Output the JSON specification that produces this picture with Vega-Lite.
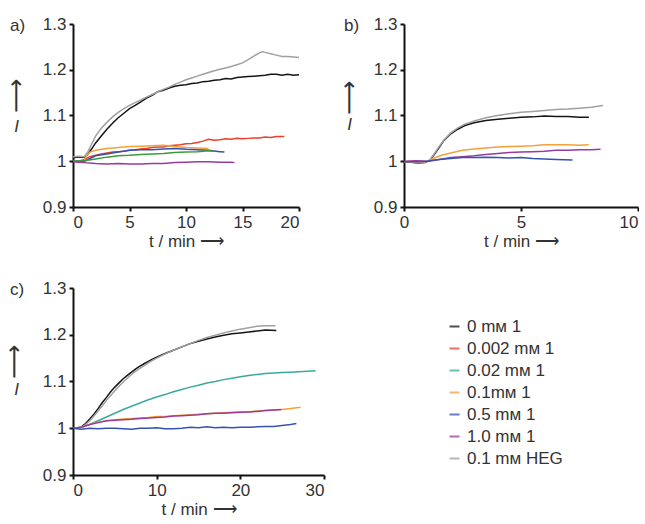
{
 "$schema": "https://vega.github.io/schema/vega-lite/v6.json",
 "padding": {"left": 2, "top": 15, "right": 0, "bottom": 0},
 "config": {
  "font": "Liberation Sans",
  "view": {"stroke": null},
  "axis": {"grid": false, "domainColor": "#111", "domainWidth": 2, "tickColor": "#111", "tickWidth": 2, "tickSize": 4, "labelFontSize": 17, "labelColor": "#333", "titleFontSize": 17, "titleFontWeight": "normal", "titleColor": "#333", "labelPadding": 3},
  "title": {"fontSize": 17, "fontWeight": "normal", "color": "#333", "anchor": "start", "frame": "group"}
 },
 "datasets": {
  "d": [
   {"p":"a","s":"0 mм 1","t":0,"I":1.008},{"p":"a","s":"0 mм 1","t":0.5,"I":1.009},{"p":"a","s":"0 mм 1","t":1,"I":1.009},{"p":"a","s":"0 mм 1","t":1.3,"I":1.015},{"p":"a","s":"0 mм 1","t":1.6,"I":1.025},{"p":"a","s":"0 mм 1","t":2,"I":1.04},{"p":"a","s":"0 mм 1","t":2.5,"I":1.055},{"p":"a","s":"0 mм 1","t":3,"I":1.07},{"p":"a","s":"0 mм 1","t":3.5,"I":1.083},{"p":"a","s":"0 mм 1","t":4,"I":1.095},{"p":"a","s":"0 mм 1","t":4.5,"I":1.105},{"p":"a","s":"0 mм 1","t":5,"I":1.115},{"p":"a","s":"0 mм 1","t":5.5,"I":1.122},{"p":"a","s":"0 mм 1","t":6,"I":1.13},{"p":"a","s":"0 mм 1","t":6.5,"I":1.138},{"p":"a","s":"0 mм 1","t":7,"I":1.144},{"p":"a","s":"0 mм 1","t":7.5,"I":1.152},{"p":"a","s":"0 mм 1","t":8,"I":1.155},{"p":"a","s":"0 mм 1","t":8.5,"I":1.16},{"p":"a","s":"0 mм 1","t":9,"I":1.164},{"p":"a","s":"0 mм 1","t":9.5,"I":1.166},{"p":"a","s":"0 mм 1","t":10,"I":1.167},{"p":"a","s":"0 mм 1","t":10.5,"I":1.17},{"p":"a","s":"0 mм 1","t":11,"I":1.171},{"p":"a","s":"0 mм 1","t":11.5,"I":1.174},{"p":"a","s":"0 mм 1","t":12,"I":1.175},{"p":"a","s":"0 mм 1","t":12.5,"I":1.177},{"p":"a","s":"0 mм 1","t":13,"I":1.178},{"p":"a","s":"0 mм 1","t":13.5,"I":1.181},{"p":"a","s":"0 mм 1","t":14,"I":1.18},{"p":"a","s":"0 mм 1","t":14.5,"I":1.183},{"p":"a","s":"0 mм 1","t":15,"I":1.184},{"p":"a","s":"0 mм 1","t":15.5,"I":1.185},{"p":"a","s":"0 mм 1","t":16,"I":1.186},{"p":"a","s":"0 mм 1","t":16.5,"I":1.187},{"p":"a","s":"0 mм 1","t":17,"I":1.188},{"p":"a","s":"0 mм 1","t":17.5,"I":1.19},{"p":"a","s":"0 mм 1","t":18,"I":1.19},{"p":"a","s":"0 mм 1","t":18.5,"I":1.188},{"p":"a","s":"0 mм 1","t":19,"I":1.19},{"p":"a","s":"0 mм 1","t":19.5,"I":1.188},{"p":"a","s":"0 mм 1","t":20,"I":1.189},
   {"p":"a","s":"0.1 mм HEG","t":0,"I":1.01},{"p":"a","s":"0.1 mм HEG","t":0.5,"I":1.011},{"p":"a","s":"0.1 mм HEG","t":1,"I":1.01},{"p":"a","s":"0.1 mм HEG","t":1.3,"I":1.02},{"p":"a","s":"0.1 mм HEG","t":1.6,"I":1.035},{"p":"a","s":"0.1 mм HEG","t":2,"I":1.055},{"p":"a","s":"0.1 mм HEG","t":2.5,"I":1.072},{"p":"a","s":"0.1 mм HEG","t":3,"I":1.085},{"p":"a","s":"0.1 mм HEG","t":3.5,"I":1.097},{"p":"a","s":"0.1 mм HEG","t":4,"I":1.107},{"p":"a","s":"0.1 mм HEG","t":4.5,"I":1.115},{"p":"a","s":"0.1 mм HEG","t":5,"I":1.122},{"p":"a","s":"0.1 mм HEG","t":5.5,"I":1.128},{"p":"a","s":"0.1 mм HEG","t":6,"I":1.134},{"p":"a","s":"0.1 mм HEG","t":6.5,"I":1.14},{"p":"a","s":"0.1 mм HEG","t":7,"I":1.146},{"p":"a","s":"0.1 mм HEG","t":7.5,"I":1.152},{"p":"a","s":"0.1 mм HEG","t":8,"I":1.157},{"p":"a","s":"0.1 mм HEG","t":8.5,"I":1.162},{"p":"a","s":"0.1 mм HEG","t":9,"I":1.168},{"p":"a","s":"0.1 mм HEG","t":9.5,"I":1.173},{"p":"a","s":"0.1 mм HEG","t":10,"I":1.178},{"p":"a","s":"0.1 mм HEG","t":10.5,"I":1.182},{"p":"a","s":"0.1 mм HEG","t":11,"I":1.186},{"p":"a","s":"0.1 mм HEG","t":11.5,"I":1.19},{"p":"a","s":"0.1 mм HEG","t":12,"I":1.194},{"p":"a","s":"0.1 mм HEG","t":12.5,"I":1.198},{"p":"a","s":"0.1 mм HEG","t":13,"I":1.201},{"p":"a","s":"0.1 mм HEG","t":13.5,"I":1.204},{"p":"a","s":"0.1 mм HEG","t":14,"I":1.207},{"p":"a","s":"0.1 mм HEG","t":14.5,"I":1.211},{"p":"a","s":"0.1 mм HEG","t":15,"I":1.215},{"p":"a","s":"0.1 mм HEG","t":15.5,"I":1.222},{"p":"a","s":"0.1 mм HEG","t":16,"I":1.23},{"p":"a","s":"0.1 mм HEG","t":16.5,"I":1.237},{"p":"a","s":"0.1 mм HEG","t":16.8,"I":1.24},{"p":"a","s":"0.1 mм HEG","t":17,"I":1.238},{"p":"a","s":"0.1 mм HEG","t":17.5,"I":1.235},{"p":"a","s":"0.1 mм HEG","t":18,"I":1.232},{"p":"a","s":"0.1 mм HEG","t":18.5,"I":1.229},{"p":"a","s":"0.1 mм HEG","t":19,"I":1.229},{"p":"a","s":"0.1 mм HEG","t":19.5,"I":1.228},{"p":"a","s":"0.1 mм HEG","t":20,"I":1.227},
   {"p":"a","s":"0.002 mм 1","t":0,"I":1.0},{"p":"a","s":"0.002 mм 1","t":0.5,"I":1.0},{"p":"a","s":"0.002 mм 1","t":1,"I":1.004},{"p":"a","s":"0.002 mм 1","t":1.5,"I":1.01},{"p":"a","s":"0.002 mм 1","t":2,"I":1.013},{"p":"a","s":"0.002 mм 1","t":2.5,"I":1.016},{"p":"a","s":"0.002 mм 1","t":3,"I":1.018},{"p":"a","s":"0.002 mм 1","t":3.5,"I":1.02},{"p":"a","s":"0.002 mм 1","t":4,"I":1.021},{"p":"a","s":"0.002 mм 1","t":4.5,"I":1.022},{"p":"a","s":"0.002 mм 1","t":5,"I":1.024},{"p":"a","s":"0.002 mм 1","t":5.5,"I":1.025},{"p":"a","s":"0.002 mм 1","t":6,"I":1.027},{"p":"a","s":"0.002 mм 1","t":6.5,"I":1.028},{"p":"a","s":"0.002 mм 1","t":7,"I":1.03},{"p":"a","s":"0.002 mм 1","t":7.5,"I":1.031},{"p":"a","s":"0.002 mм 1","t":8,"I":1.031},{"p":"a","s":"0.002 mм 1","t":8.5,"I":1.034},{"p":"a","s":"0.002 mм 1","t":9,"I":1.035},{"p":"a","s":"0.002 mм 1","t":9.5,"I":1.036},{"p":"a","s":"0.002 mм 1","t":10,"I":1.038},{"p":"a","s":"0.002 mм 1","t":10.5,"I":1.039},{"p":"a","s":"0.002 mм 1","t":11,"I":1.041},{"p":"a","s":"0.002 mм 1","t":11.5,"I":1.044},{"p":"a","s":"0.002 mм 1","t":12,"I":1.048},{"p":"a","s":"0.002 mм 1","t":12.5,"I":1.046},{"p":"a","s":"0.002 mм 1","t":13,"I":1.047},{"p":"a","s":"0.002 mм 1","t":13.5,"I":1.049},{"p":"a","s":"0.002 mм 1","t":14,"I":1.048},{"p":"a","s":"0.002 mм 1","t":14.5,"I":1.05},{"p":"a","s":"0.002 mм 1","t":15,"I":1.049},{"p":"a","s":"0.002 mм 1","t":15.5,"I":1.05},{"p":"a","s":"0.002 mм 1","t":16,"I":1.051},{"p":"a","s":"0.002 mм 1","t":16.5,"I":1.051},{"p":"a","s":"0.002 mм 1","t":17,"I":1.053},{"p":"a","s":"0.002 mм 1","t":17.5,"I":1.052},{"p":"a","s":"0.002 mм 1","t":18,"I":1.054},{"p":"a","s":"0.002 mм 1","t":18.7,"I":1.054},
   {"p":"a","s":"0.1mм 1","t":0,"I":1.0},{"p":"a","s":"0.1mм 1","t":0.5,"I":1.0},{"p":"a","s":"0.1mм 1","t":1,"I":1.002},{"p":"a","s":"0.1mм 1","t":1.2,"I":1.012},{"p":"a","s":"0.1mм 1","t":1.5,"I":1.02},{"p":"a","s":"0.1mм 1","t":2,"I":1.024},{"p":"a","s":"0.1mм 1","t":2.5,"I":1.026},{"p":"a","s":"0.1mм 1","t":3,"I":1.028},{"p":"a","s":"0.1mм 1","t":4,"I":1.03},{"p":"a","s":"0.1mм 1","t":5,"I":1.032},{"p":"a","s":"0.1mм 1","t":6,"I":1.033},{"p":"a","s":"0.1mм 1","t":7,"I":1.034},{"p":"a","s":"0.1mм 1","t":8,"I":1.035},{"p":"a","s":"0.1mм 1","t":9,"I":1.032},{"p":"a","s":"0.1mм 1","t":10,"I":1.03},{"p":"a","s":"0.1mм 1","t":11,"I":1.029},{"p":"a","s":"0.1mм 1","t":12,"I":1.028},
   {"p":"a","s":"0.5 mм 1","t":0,"I":1.0},{"p":"a","s":"0.5 mм 1","t":1,"I":1.0},{"p":"a","s":"0.5 mм 1","t":1.5,"I":1.006},{"p":"a","s":"0.5 mм 1","t":2,"I":1.012},{"p":"a","s":"0.5 mм 1","t":3,"I":1.016},{"p":"a","s":"0.5 mм 1","t":4,"I":1.02},{"p":"a","s":"0.5 mм 1","t":5,"I":1.024},{"p":"a","s":"0.5 mм 1","t":6,"I":1.025},{"p":"a","s":"0.5 mм 1","t":7,"I":1.025},{"p":"a","s":"0.5 mм 1","t":8,"I":1.027},{"p":"a","s":"0.5 mм 1","t":9,"I":1.028},{"p":"a","s":"0.5 mм 1","t":10,"I":1.026},{"p":"a","s":"0.5 mм 1","t":11,"I":1.025},{"p":"a","s":"0.5 mм 1","t":12,"I":1.024},{"p":"a","s":"0.5 mм 1","t":13,"I":1.021},{"p":"a","s":"0.5 mм 1","t":13.4,"I":1.02},
   {"p":"a","s":"0.02 mм 1","t":0,"I":1.0},{"p":"a","s":"0.02 mм 1","t":1,"I":1.001},{"p":"a","s":"0.02 mм 1","t":2,"I":1.005},{"p":"a","s":"0.02 mм 1","t":3,"I":1.009},{"p":"a","s":"0.02 mм 1","t":4,"I":1.012},{"p":"a","s":"0.02 mм 1","t":5,"I":1.013},{"p":"a","s":"0.02 mм 1","t":6,"I":1.015},{"p":"a","s":"0.02 mм 1","t":7,"I":1.016},{"p":"a","s":"0.02 mм 1","t":8,"I":1.017},{"p":"a","s":"0.02 mм 1","t":9,"I":1.019},{"p":"a","s":"0.02 mм 1","t":10,"I":1.02},{"p":"a","s":"0.02 mм 1","t":11,"I":1.021},{"p":"a","s":"0.02 mм 1","t":12,"I":1.023},{"p":"a","s":"0.02 mм 1","t":12.5,"I":1.022},
   {"p":"a","s":"1.0 mм 1","t":0,"I":0.999},{"p":"a","s":"1.0 mм 1","t":0.5,"I":0.998},{"p":"a","s":"1.0 mм 1","t":1,"I":0.997},{"p":"a","s":"1.0 mм 1","t":2,"I":0.995},{"p":"a","s":"1.0 mм 1","t":3,"I":0.994},{"p":"a","s":"1.0 mм 1","t":4,"I":0.995},{"p":"a","s":"1.0 mм 1","t":5,"I":0.994},{"p":"a","s":"1.0 mм 1","t":6,"I":0.994},{"p":"a","s":"1.0 mм 1","t":7,"I":0.995},{"p":"a","s":"1.0 mм 1","t":8,"I":0.995},{"p":"a","s":"1.0 mм 1","t":9,"I":0.997},{"p":"a","s":"1.0 mм 1","t":10,"I":0.998},{"p":"a","s":"1.0 mм 1","t":11,"I":0.999},{"p":"a","s":"1.0 mм 1","t":12,"I":0.999},{"p":"a","s":"1.0 mм 1","t":13,"I":0.998},{"p":"a","s":"1.0 mм 1","t":14,"I":0.998},{"p":"a","s":"1.0 mм 1","t":14.3,"I":0.997},
   {"p":"b","s":"0 mм 1","t":0,"I":0.998},{"p":"b","s":"0 mм 1","t":0.3,"I":0.998},{"p":"b","s":"0 mм 1","t":0.6,"I":0.996},{"p":"b","s":"0 mм 1","t":0.9,"I":0.997},{"p":"b","s":"0 mм 1","t":1.1,"I":1.002},{"p":"b","s":"0 mм 1","t":1.3,"I":1.015},{"p":"b","s":"0 mм 1","t":1.5,"I":1.03},{"p":"b","s":"0 mм 1","t":1.7,"I":1.045},{"p":"b","s":"0 mм 1","t":2,"I":1.06},{"p":"b","s":"0 mм 1","t":2.3,"I":1.07},{"p":"b","s":"0 mм 1","t":2.6,"I":1.078},{"p":"b","s":"0 mм 1","t":3,"I":1.084},{"p":"b","s":"0 mм 1","t":3.5,"I":1.089},{"p":"b","s":"0 mм 1","t":4,"I":1.092},{"p":"b","s":"0 mм 1","t":4.5,"I":1.094},{"p":"b","s":"0 mм 1","t":5,"I":1.096},{"p":"b","s":"0 mм 1","t":5.5,"I":1.097},{"p":"b","s":"0 mм 1","t":6,"I":1.099},{"p":"b","s":"0 mм 1","t":6.5,"I":1.098},{"p":"b","s":"0 mм 1","t":7,"I":1.098},{"p":"b","s":"0 mм 1","t":7.5,"I":1.096},{"p":"b","s":"0 mм 1","t":7.9,"I":1.096},
   {"p":"b","s":"0.1 mм HEG","t":0,"I":0.999},{"p":"b","s":"0.1 mм HEG","t":0.3,"I":0.998},{"p":"b","s":"0.1 mм HEG","t":0.6,"I":0.997},{"p":"b","s":"0.1 mм HEG","t":0.9,"I":0.998},{"p":"b","s":"0.1 mм HEG","t":1.1,"I":1.003},{"p":"b","s":"0.1 mм HEG","t":1.3,"I":1.017},{"p":"b","s":"0.1 mм HEG","t":1.5,"I":1.032},{"p":"b","s":"0.1 mм HEG","t":1.7,"I":1.046},{"p":"b","s":"0.1 mм HEG","t":2,"I":1.062},{"p":"b","s":"0.1 mм HEG","t":2.3,"I":1.073},{"p":"b","s":"0.1 mм HEG","t":2.6,"I":1.081},{"p":"b","s":"0.1 mм HEG","t":3,"I":1.088},{"p":"b","s":"0.1 mм HEG","t":3.5,"I":1.095},{"p":"b","s":"0.1 mм HEG","t":4,"I":1.1},{"p":"b","s":"0.1 mм HEG","t":4.5,"I":1.104},{"p":"b","s":"0.1 mм HEG","t":5,"I":1.107},{"p":"b","s":"0.1 mм HEG","t":5.5,"I":1.109},{"p":"b","s":"0.1 mм HEG","t":6,"I":1.111},{"p":"b","s":"0.1 mм HEG","t":6.5,"I":1.113},{"p":"b","s":"0.1 mм HEG","t":7,"I":1.114},{"p":"b","s":"0.1 mм HEG","t":7.5,"I":1.116},{"p":"b","s":"0.1 mм HEG","t":8,"I":1.118},{"p":"b","s":"0.1 mм HEG","t":8.5,"I":1.122},
   {"p":"b","s":"0.1mм 1","t":0,"I":0.999},{"p":"b","s":"0.1mм 1","t":0.5,"I":0.999},{"p":"b","s":"0.1mм 1","t":1,"I":1.0},{"p":"b","s":"0.1mм 1","t":1.3,"I":1.007},{"p":"b","s":"0.1mм 1","t":1.6,"I":1.013},{"p":"b","s":"0.1mм 1","t":2,"I":1.018},{"p":"b","s":"0.1mм 1","t":2.5,"I":1.024},{"p":"b","s":"0.1mм 1","t":3,"I":1.027},{"p":"b","s":"0.1mм 1","t":3.5,"I":1.029},{"p":"b","s":"0.1mм 1","t":4,"I":1.031},{"p":"b","s":"0.1mм 1","t":4.5,"I":1.032},{"p":"b","s":"0.1mм 1","t":5,"I":1.033},{"p":"b","s":"0.1mм 1","t":5.5,"I":1.034},{"p":"b","s":"0.1mм 1","t":6,"I":1.036},{"p":"b","s":"0.1mм 1","t":6.5,"I":1.036},{"p":"b","s":"0.1mм 1","t":7,"I":1.036},{"p":"b","s":"0.1mм 1","t":7.5,"I":1.035},{"p":"b","s":"0.1mм 1","t":7.9,"I":1.036},
   {"p":"b","s":"1.0 mм 1","t":0,"I":1.0},{"p":"b","s":"1.0 mм 1","t":0.5,"I":1.001},{"p":"b","s":"1.0 mм 1","t":1,"I":1.0},{"p":"b","s":"1.0 mм 1","t":1.5,"I":1.004},{"p":"b","s":"1.0 mм 1","t":2,"I":1.008},{"p":"b","s":"1.0 mм 1","t":2.5,"I":1.01},{"p":"b","s":"1.0 mм 1","t":3,"I":1.012},{"p":"b","s":"1.0 mм 1","t":3.5,"I":1.015},{"p":"b","s":"1.0 mм 1","t":4,"I":1.017},{"p":"b","s":"1.0 mм 1","t":4.5,"I":1.019},{"p":"b","s":"1.0 mм 1","t":5,"I":1.02},{"p":"b","s":"1.0 mм 1","t":5.5,"I":1.021},{"p":"b","s":"1.0 mм 1","t":6,"I":1.022},{"p":"b","s":"1.0 mм 1","t":6.5,"I":1.024},{"p":"b","s":"1.0 mм 1","t":7,"I":1.024},{"p":"b","s":"1.0 mм 1","t":7.5,"I":1.025},{"p":"b","s":"1.0 mм 1","t":8,"I":1.025},{"p":"b","s":"1.0 mм 1","t":8.4,"I":1.026},
   {"p":"b","s":"0.5 mм 1","t":0,"I":0.999},{"p":"b","s":"0.5 mм 1","t":0.5,"I":0.999},{"p":"b","s":"0.5 mм 1","t":1,"I":1.0},{"p":"b","s":"0.5 mм 1","t":1.5,"I":1.004},{"p":"b","s":"0.5 mм 1","t":2,"I":1.006},{"p":"b","s":"0.5 mм 1","t":2.5,"I":1.008},{"p":"b","s":"0.5 mм 1","t":3,"I":1.008},{"p":"b","s":"0.5 mм 1","t":3.5,"I":1.009},{"p":"b","s":"0.5 mм 1","t":4,"I":1.008},{"p":"b","s":"0.5 mм 1","t":4.5,"I":1.007},{"p":"b","s":"0.5 mм 1","t":5,"I":1.008},{"p":"b","s":"0.5 mм 1","t":5.5,"I":1.006},{"p":"b","s":"0.5 mм 1","t":6,"I":1.005},{"p":"b","s":"0.5 mм 1","t":6.5,"I":1.004},{"p":"b","s":"0.5 mм 1","t":7.2,"I":1.003},
   {"p":"c","s":"0 mм 1","t":0,"I":1.0},{"p":"c","s":"0 mм 1","t":0.5,"I":1.0},{"p":"c","s":"0 mм 1","t":1,"I":1.003},{"p":"c","s":"0 mм 1","t":1.5,"I":1.01},{"p":"c","s":"0 mм 1","t":2,"I":1.02},{"p":"c","s":"0 mм 1","t":2.5,"I":1.03},{"p":"c","s":"0 mм 1","t":3,"I":1.042},{"p":"c","s":"0 mм 1","t":3.5,"I":1.055},{"p":"c","s":"0 mм 1","t":4,"I":1.066},{"p":"c","s":"0 mм 1","t":4.5,"I":1.078},{"p":"c","s":"0 mм 1","t":5,"I":1.088},{"p":"c","s":"0 mм 1","t":5.5,"I":1.097},{"p":"c","s":"0 mм 1","t":6,"I":1.106},{"p":"c","s":"0 mм 1","t":6.5,"I":1.113},{"p":"c","s":"0 mм 1","t":7,"I":1.12},{"p":"c","s":"0 mм 1","t":7.5,"I":1.127},{"p":"c","s":"0 mм 1","t":8,"I":1.133},{"p":"c","s":"0 mм 1","t":8.5,"I":1.138},{"p":"c","s":"0 mм 1","t":9,"I":1.143},{"p":"c","s":"0 mм 1","t":9.5,"I":1.148},{"p":"c","s":"0 mм 1","t":10,"I":1.152},{"p":"c","s":"0 mм 1","t":11,"I":1.16},{"p":"c","s":"0 mм 1","t":12,"I":1.167},{"p":"c","s":"0 mм 1","t":13,"I":1.174},{"p":"c","s":"0 mм 1","t":14,"I":1.181},{"p":"c","s":"0 mм 1","t":15,"I":1.186},{"p":"c","s":"0 mм 1","t":16,"I":1.191},{"p":"c","s":"0 mм 1","t":17,"I":1.195},{"p":"c","s":"0 mм 1","t":18,"I":1.199},{"p":"c","s":"0 mм 1","t":19,"I":1.202},{"p":"c","s":"0 mм 1","t":20,"I":1.204},{"p":"c","s":"0 mм 1","t":21,"I":1.206},{"p":"c","s":"0 mм 1","t":22,"I":1.208},{"p":"c","s":"0 mм 1","t":23,"I":1.21},{"p":"c","s":"0 mм 1","t":24.3,"I":1.209},
   {"p":"c","s":"0.1 mм HEG","t":0,"I":1.0},{"p":"c","s":"0.1 mм HEG","t":0.5,"I":1.0},{"p":"c","s":"0.1 mм HEG","t":1,"I":1.002},{"p":"c","s":"0.1 mм HEG","t":1.5,"I":1.008},{"p":"c","s":"0.1 mм HEG","t":2,"I":1.016},{"p":"c","s":"0.1 mм HEG","t":2.5,"I":1.026},{"p":"c","s":"0.1 mм HEG","t":3,"I":1.037},{"p":"c","s":"0.1 mм HEG","t":3.5,"I":1.048},{"p":"c","s":"0.1 mм HEG","t":4,"I":1.06},{"p":"c","s":"0.1 mм HEG","t":4.5,"I":1.07},{"p":"c","s":"0.1 mм HEG","t":5,"I":1.08},{"p":"c","s":"0.1 mм HEG","t":5.5,"I":1.09},{"p":"c","s":"0.1 mм HEG","t":6,"I":1.099},{"p":"c","s":"0.1 mм HEG","t":6.5,"I":1.107},{"p":"c","s":"0.1 mм HEG","t":7,"I":1.115},{"p":"c","s":"0.1 mм HEG","t":7.5,"I":1.122},{"p":"c","s":"0.1 mм HEG","t":8,"I":1.128},{"p":"c","s":"0.1 mм HEG","t":8.5,"I":1.134},{"p":"c","s":"0.1 mм HEG","t":9,"I":1.14},{"p":"c","s":"0.1 mм HEG","t":9.5,"I":1.145},{"p":"c","s":"0.1 mм HEG","t":10,"I":1.15},{"p":"c","s":"0.1 mм HEG","t":11,"I":1.159},{"p":"c","s":"0.1 mм HEG","t":12,"I":1.167},{"p":"c","s":"0.1 mм HEG","t":13,"I":1.174},{"p":"c","s":"0.1 mм HEG","t":14,"I":1.181},{"p":"c","s":"0.1 mм HEG","t":15,"I":1.188},{"p":"c","s":"0.1 mм HEG","t":16,"I":1.194},{"p":"c","s":"0.1 mм HEG","t":17,"I":1.199},{"p":"c","s":"0.1 mм HEG","t":18,"I":1.204},{"p":"c","s":"0.1 mм HEG","t":19,"I":1.208},{"p":"c","s":"0.1 mм HEG","t":20,"I":1.212},{"p":"c","s":"0.1 mм HEG","t":21,"I":1.215},{"p":"c","s":"0.1 mм HEG","t":22,"I":1.218},{"p":"c","s":"0.1 mм HEG","t":23,"I":1.219},{"p":"c","s":"0.1 mм HEG","t":24.2,"I":1.219},
   {"p":"c","s":"0.02 mм 1","t":0,"I":1.0},{"p":"c","s":"0.02 mм 1","t":1,"I":1.002},{"p":"c","s":"0.02 mм 1","t":2,"I":1.008},{"p":"c","s":"0.02 mм 1","t":3,"I":1.016},{"p":"c","s":"0.02 mм 1","t":4,"I":1.024},{"p":"c","s":"0.02 mм 1","t":5,"I":1.032},{"p":"c","s":"0.02 mм 1","t":6,"I":1.04},{"p":"c","s":"0.02 mм 1","t":7,"I":1.047},{"p":"c","s":"0.02 mм 1","t":8,"I":1.054},{"p":"c","s":"0.02 mм 1","t":9,"I":1.061},{"p":"c","s":"0.02 mм 1","t":10,"I":1.067},{"p":"c","s":"0.02 mм 1","t":11,"I":1.072},{"p":"c","s":"0.02 mм 1","t":12,"I":1.078},{"p":"c","s":"0.02 mм 1","t":13,"I":1.083},{"p":"c","s":"0.02 mм 1","t":14,"I":1.088},{"p":"c","s":"0.02 mм 1","t":15,"I":1.092},{"p":"c","s":"0.02 mм 1","t":16,"I":1.097},{"p":"c","s":"0.02 mм 1","t":17,"I":1.1},{"p":"c","s":"0.02 mм 1","t":18,"I":1.104},{"p":"c","s":"0.02 mм 1","t":19,"I":1.107},{"p":"c","s":"0.02 mм 1","t":20,"I":1.11},{"p":"c","s":"0.02 mм 1","t":21,"I":1.113},{"p":"c","s":"0.02 mм 1","t":22,"I":1.115},{"p":"c","s":"0.02 mм 1","t":23,"I":1.117},{"p":"c","s":"0.02 mм 1","t":24,"I":1.118},{"p":"c","s":"0.02 mм 1","t":25,"I":1.119},{"p":"c","s":"0.02 mм 1","t":26,"I":1.12},{"p":"c","s":"0.02 mм 1","t":27,"I":1.121},{"p":"c","s":"0.02 mм 1","t":28,"I":1.122},{"p":"c","s":"0.02 mм 1","t":29,"I":1.123},
   {"p":"c","s":"0.1mм 1","t":0,"I":1.0},{"p":"c","s":"0.1mм 1","t":1,"I":1.002},{"p":"c","s":"0.1mм 1","t":2,"I":1.008},{"p":"c","s":"0.1mм 1","t":3,"I":1.013},{"p":"c","s":"0.1mм 1","t":4,"I":1.016},{"p":"c","s":"0.1mм 1","t":5,"I":1.018},{"p":"c","s":"0.1mм 1","t":6,"I":1.02},{"p":"c","s":"0.1mм 1","t":7,"I":1.021},{"p":"c","s":"0.1mм 1","t":8,"I":1.022},{"p":"c","s":"0.1mм 1","t":9,"I":1.023},{"p":"c","s":"0.1mм 1","t":10,"I":1.025},{"p":"c","s":"0.1mм 1","t":11,"I":1.025},{"p":"c","s":"0.1mм 1","t":12,"I":1.027},{"p":"c","s":"0.1mм 1","t":13,"I":1.028},{"p":"c","s":"0.1mм 1","t":14,"I":1.029},{"p":"c","s":"0.1mм 1","t":15,"I":1.03},{"p":"c","s":"0.1mм 1","t":16,"I":1.031},{"p":"c","s":"0.1mм 1","t":17,"I":1.032},{"p":"c","s":"0.1mм 1","t":18,"I":1.033},{"p":"c","s":"0.1mм 1","t":19,"I":1.034},{"p":"c","s":"0.1mм 1","t":20,"I":1.035},{"p":"c","s":"0.1mм 1","t":21,"I":1.035},{"p":"c","s":"0.1mм 1","t":22,"I":1.037},{"p":"c","s":"0.1mм 1","t":23,"I":1.038},{"p":"c","s":"0.1mм 1","t":24,"I":1.039},{"p":"c","s":"0.1mм 1","t":25,"I":1.04},{"p":"c","s":"0.1mм 1","t":26,"I":1.042},{"p":"c","s":"0.1mм 1","t":27.2,"I":1.045},
   {"p":"c","s":"1.0 mм 1","t":0,"I":1.0},{"p":"c","s":"1.0 mм 1","t":1,"I":1.002},{"p":"c","s":"1.0 mм 1","t":2,"I":1.008},{"p":"c","s":"1.0 mм 1","t":3,"I":1.012},{"p":"c","s":"1.0 mм 1","t":4,"I":1.016},{"p":"c","s":"1.0 mм 1","t":5,"I":1.017},{"p":"c","s":"1.0 mм 1","t":6,"I":1.018},{"p":"c","s":"1.0 mм 1","t":7,"I":1.019},{"p":"c","s":"1.0 mм 1","t":8,"I":1.021},{"p":"c","s":"1.0 mм 1","t":9,"I":1.022},{"p":"c","s":"1.0 mм 1","t":10,"I":1.023},{"p":"c","s":"1.0 mм 1","t":11,"I":1.024},{"p":"c","s":"1.0 mм 1","t":12,"I":1.026},{"p":"c","s":"1.0 mм 1","t":13,"I":1.027},{"p":"c","s":"1.0 mм 1","t":14,"I":1.028},{"p":"c","s":"1.0 mм 1","t":15,"I":1.029},{"p":"c","s":"1.0 mм 1","t":16,"I":1.031},{"p":"c","s":"1.0 mм 1","t":17,"I":1.032},{"p":"c","s":"1.0 mм 1","t":18,"I":1.032},{"p":"c","s":"1.0 mм 1","t":19,"I":1.033},{"p":"c","s":"1.0 mм 1","t":20,"I":1.034},{"p":"c","s":"1.0 mм 1","t":21,"I":1.035},{"p":"c","s":"1.0 mм 1","t":22,"I":1.036},{"p":"c","s":"1.0 mм 1","t":23,"I":1.038},{"p":"c","s":"1.0 mм 1","t":24,"I":1.039},{"p":"c","s":"1.0 mм 1","t":24.9,"I":1.04},
   {"p":"c","s":"0.5 mм 1","t":0,"I":1.0},{"p":"c","s":"0.5 mм 1","t":1,"I":0.998},{"p":"c","s":"0.5 mм 1","t":2,"I":1.0},{"p":"c","s":"0.5 mм 1","t":3,"I":0.999},{"p":"c","s":"0.5 mм 1","t":4,"I":1.0},{"p":"c","s":"0.5 mм 1","t":5,"I":1.0},{"p":"c","s":"0.5 mм 1","t":6,"I":0.999},{"p":"c","s":"0.5 mм 1","t":7,"I":0.998},{"p":"c","s":"0.5 mм 1","t":8,"I":1.0},{"p":"c","s":"0.5 mм 1","t":9,"I":1.0},{"p":"c","s":"0.5 mм 1","t":10,"I":1.001},{"p":"c","s":"0.5 mм 1","t":11,"I":0.999},{"p":"c","s":"0.5 mм 1","t":12,"I":0.999},{"p":"c","s":"0.5 mм 1","t":13,"I":1.0},{"p":"c","s":"0.5 mм 1","t":14,"I":1.002},{"p":"c","s":"0.5 mм 1","t":15,"I":1.001},{"p":"c","s":"0.5 mм 1","t":16,"I":1.003},{"p":"c","s":"0.5 mм 1","t":17,"I":1.001},{"p":"c","s":"0.5 mм 1","t":18,"I":1.002},{"p":"c","s":"0.5 mм 1","t":19,"I":1.001},{"p":"c","s":"0.5 mм 1","t":20,"I":1.002},{"p":"c","s":"0.5 mм 1","t":21,"I":1.002},{"p":"c","s":"0.5 mм 1","t":22,"I":1.003},{"p":"c","s":"0.5 mм 1","t":23,"I":1.004},{"p":"c","s":"0.5 mм 1","t":24,"I":1.004},{"p":"c","s":"0.5 mм 1","t":25,"I":1.006},{"p":"c","s":"0.5 mм 1","t":26,"I":1.008},{"p":"c","s":"0.5 mм 1","t":26.7,"I":1.01}
  ]
 },
 "data": {"name": "d"},
 "resolve": {"scale": {"color": "independent"}},
 "spacing": 30,
 "vconcat": [
  {
   "hconcat": [
    {
     "width": 226, "height": 183,
     "title": {"text": "a)", "dx": -63, "offset": -20},
     "transform": [{"filter": "datum.p == 'a'"}],
     "layer": [
      {
       "mark": {"type": "line", "strokeWidth": 1.5},
       "encoding": {
        "x": {"field": "t", "type": "quantitative", "scale": {"domain": [0, 20]}, "axis": {"values": [0, 5, 10, 15, 20], "title": "t / min  ⟶", "titlePadding": 3}},
        "y": {"field": "I", "type": "quantitative", "scale": {"domain": [0.9, 1.3], "zero": false}, "axis": {"values": [0.9, 1, 1.1, 1.2, 1.3], "labelExpr": "datum.value == 1 ? '1' : format(datum.value, '.1f')", "title": "I", "titleAngle": 0, "titleX": -57, "titleY": 102, "titleFontStyle": "italic", "titleAlign": "center", "titleBaseline": "middle"}},
        "color": {"field": "s", "type": "nominal", "scale": {"domain": ["0 mм 1", "0.002 mм 1", "0.02 mм 1", "0.1mм 1", "0.5 mм 1", "1.0 mм 1", "0.1 mм HEG"], "range": ["#151515", "#e8402a", "#3a9a3c", "#f4a13a", "#3552b0", "#9a3a9c", "#a0a0a0"]}, "legend": null}
       }
      },
      {
       "mark": {"type": "line", "strokeOpacity": 0},
       "encoding": {
        "x": {"field": "t", "type": "quantitative"},
        "y": {"field": "I", "type": "quantitative", "scale": {"domain": [0.9, 1.3], "zero": false}, "axis": {"orient": "left", "labels": false, "ticks": false, "domain": false, "title": "⟶", "titleFont": "DejaVu Sans", "titleFontSize": 24, "titleAngle": 270, "titleX": -57, "titleY": 71, "titleAlign": "center", "titleBaseline": "middle"}},
        "detail": {"field": "s"}
       }
      }
     ],
     "resolve": {"scale": {"y": "independent"}}
    },
    {
     "width": 234, "height": 183,
     "title": {"text": "b)", "dx": -60, "offset": -20},
     "transform": [{"filter": "datum.p == 'b'"}],
     "layer": [
      {
       "mark": {"type": "line", "strokeWidth": 1.5},
       "encoding": {
        "x": {"field": "t", "type": "quantitative", "scale": {"domain": [0, 10]}, "axis": {"values": [0, 5, 10], "title": "t / min  ⟶", "titlePadding": 3, "labelAlign": {"condition": {"test": "datum.value == 10", "value": "right"}, "value": "center"}}},
        "y": {"field": "I", "type": "quantitative", "scale": {"domain": [0.9, 1.3], "zero": false}, "axis": {"values": [0.9, 1, 1.1, 1.2, 1.3], "labelExpr": "datum.value == 1 ? '1' : format(datum.value, '.1f')", "title": "I", "titleAngle": 0, "titleX": -55, "titleY": 100, "titleFontStyle": "italic", "titleAlign": "center", "titleBaseline": "middle"}},
        "color": {"field": "s", "type": "nominal", "scale": {"domain": ["0 mм 1", "0.002 mм 1", "0.02 mм 1", "0.1mм 1", "0.5 mм 1", "1.0 mм 1", "0.1 mм HEG"], "range": ["#151515", "#e8402a", "#3aa8a0", "#f4a13a", "#3552b0", "#9a3a9c", "#a0a0a0"]}, "legend": null}
       }
      },
      {
       "mark": {"type": "line", "strokeOpacity": 0},
       "encoding": {
        "x": {"field": "t", "type": "quantitative"},
        "y": {"field": "I", "type": "quantitative", "scale": {"domain": [0.9, 1.3], "zero": false}, "axis": {"orient": "left", "labels": false, "ticks": false, "domain": false, "title": "⟶", "titleFont": "DejaVu Sans", "titleFontSize": 24, "titleAngle": 270, "titleX": -55, "titleY": 73, "titleAlign": "center", "titleBaseline": "middle"}},
        "detail": {"field": "s"}
       }
      }
     ],
     "resolve": {"scale": {"y": "independent"}}
    }
   ],
   "spacing": 35,
   "resolve": {"scale": {"color": "independent"}}
  },
  {
   "width": 251, "height": 187,
   "title": {"text": "c)", "dx": -63, "offset": -20},
   "transform": [{"filter": "datum.p == 'c'"}],
   "layer": [
    {
     "mark": {"type": "line", "strokeWidth": 1.5},
     "encoding": {
      "x": {"field": "t", "type": "quantitative", "scale": {"domain": [0, 30]}, "axis": {"values": [0, 10, 20, 30], "title": "t / min  ⟶", "titlePadding": 3}},
      "y": {"field": "I", "type": "quantitative", "scale": {"domain": [0.9, 1.3], "zero": false}, "axis": {"values": [0.9, 1, 1.1, 1.2, 1.3], "labelExpr": "datum.value == 1 ? '1' : format(datum.value, '.1f')", "title": "I", "titleAngle": 0, "titleX": -57, "titleY": 101, "titleFontStyle": "italic", "titleAlign": "center", "titleBaseline": "middle"}},
      "color": {"field": "s", "type": "nominal", "scale": {"domain": ["0 mм 1", "0.002 mм 1", "0.02 mм 1", "0.1mм 1", "0.5 mм 1", "1.0 mм 1", "0.1 mм HEG"], "range": ["#151515", "#e8402a", "#3aa8a0", "#f4a13a", "#3552b0", "#9a3a9c", "#a0a0a0"]}, "legend": {"title": null, "orient": "none", "legendX": 373, "legendY": 30, "symbolType": "stroke", "symbolStrokeWidth": 2, "symbolSize": 100, "symbolOpacity": 0.75, "labelFontSize": 17, "labelColor": "#333", "rowPadding": 4, "labelOffset": 4, "labelLimit": 200}}
     }
    },
    {
     "mark": {"type": "line", "strokeOpacity": 0},
     "encoding": {
      "x": {"field": "t", "type": "quantitative"},
      "y": {"field": "I", "type": "quantitative", "scale": {"domain": [0.9, 1.3], "zero": false}, "axis": {"orient": "left", "labels": false, "ticks": false, "domain": false, "title": "⟶", "titleFont": "DejaVu Sans", "titleFontSize": 24, "titleAngle": 270, "titleX": -59, "titleY": 73, "titleAlign": "center", "titleBaseline": "middle"}},
      "detail": {"field": "s"}
     }
    }
   ],
   "resolve": {"scale": {"y": "independent"}}
  }
 ]
}
